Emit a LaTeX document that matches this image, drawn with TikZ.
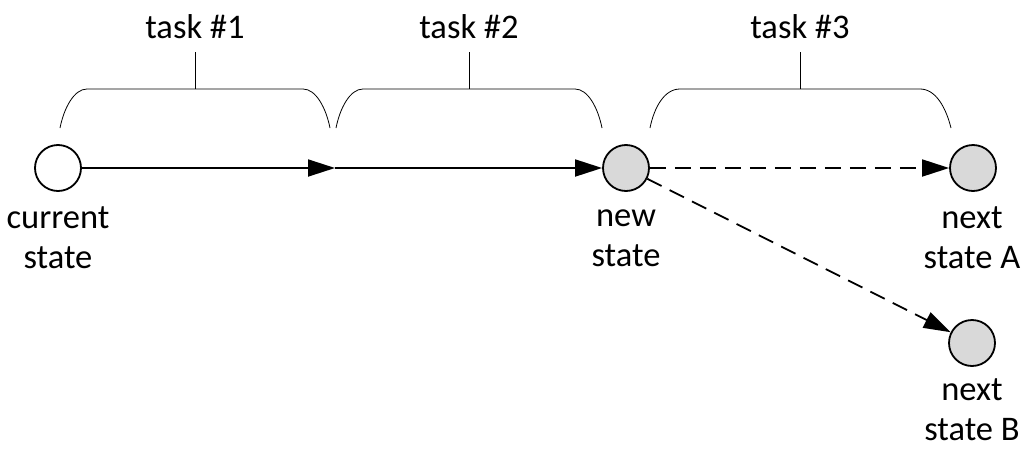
\documentclass[tikz,border=0pt]{standalone}
\usepackage{fontspec}
\setmainfont{Carlito}
\usetikzlibrary{arrows.meta}
\definecolor{stategray}{HTML}{D9D9D9}
\begin{document}
\begin{tikzpicture}[x=1pt,y=-1pt,
  state/.style={circle,draw=black,line width=1.8pt,minimum size=46pt,inner sep=0pt},
  done/.style={state,fill=white},
  todo/.style={state,fill=stategray},
  lbl/.style={font=\fontsize{34.5}{40}\selectfont,align=center,inner sep=0pt},
  flow/.style={line width=1.8pt,-{Triangle[length=27pt,width=17pt]}},
  maybe/.style={flow,dash pattern=on 16pt off 9pt},
  brace/.style={line width=0.8pt}]
\useasboundingbox (0,0) rectangle (1026,450);
\node[done] (cur) at (58,168) {};
\coordinate (mid) at (335,168);
\node[todo] (new) at (626,168) {};
\node[todo] (nxa) at (973,168) {};
\node[todo] (nxb) at (972,343) {};
\node[lbl] (curl) at (58,238) {current\\state};
\node[lbl] (newl) at (626,238) {new\\state};
\node[lbl] (nxal) at (972,238) {next\\state A};
\node[lbl] (nxbl) at (972,410) {next\\state B};
\draw[flow] (cur) -- (mid);
\draw[flow] (mid) -- (new);
\draw[maybe] (new) -- (nxa);
\draw[maybe] (new) -- (nxb);
% braces
\draw[brace] (60,128) .. controls (64,108) and (74,89) .. (87,89) -- (303,89)
  .. controls (316,89) and (326,108) .. (330,128);
\draw[brace] (195,89) -- (195,52);
\draw[brace] (336,128) .. controls (340,108) and (350,89) .. (363,89) -- (575,89)
  .. controls (588,89) and (598,108) .. (602,128);
\draw[brace] (469,89) -- (469,52);
\draw[brace] (650,128) .. controls (654,108) and (664,89) .. (680,89) -- (920,89)
  .. controls (936,89) and (946,108) .. (951,128);
\draw[brace] (800,89) -- (800,52);
\node[lbl] (t1) at (195,27) {task \#1};
\node[lbl] (t2) at (469,27) {task \#2};
\node[lbl] (t3) at (800,27) {task \#3};
\end{tikzpicture}
\end{document}
